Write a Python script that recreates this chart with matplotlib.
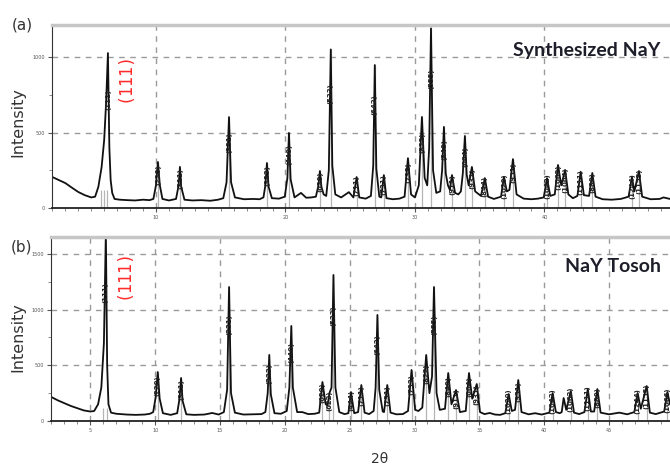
import matplotlib.pyplot as plt
from matplotlib.ticker import MultipleLocator, FixedLocator
import numpy as np

# ---- panel (a): Synthesized NaY, trace ----
two_theta_a = [2.0, 2.5, 3.0, 3.5, 4.0, 4.5, 5.0, 5.3, 5.55, 5.8, 6.0, 6.15, 6.29, 6.4, 6.5, 6.62, 6.8,
               7.2, 7.8, 8.4, 9.0, 9.5, 9.8, 10.0, 10.15, 10.3, 10.5, 11.0, 11.55, 11.75, 11.85, 11.95, 12.2,
               12.8, 13.5, 14.2, 14.8, 15.2, 15.45, 15.64, 15.8, 16.1, 16.8, 17.5, 18.0, 18.3, 18.45, 18.57,
               18.7, 18.95, 19.5, 19.95, 20.15, 20.27, 20.4, 20.7, 21.2, 21.6, 22.0, 22.35, 22.55, 22.66,
               22.78, 22.95, 23.15, 23.35, 23.5, 23.62, 23.85, 24.3, 24.9, 25.25, 25.5, 25.7, 26.2, 26.6,
               26.78, 26.9, 27.02, 27.25, 27.4, 27.6, 27.8, 28.3, 28.8, 29.2, 29.46, 29.7, 30.0, 30.3, 30.54,
               30.75, 30.95, 31.1, 31.24, 31.4, 31.65, 31.95, 32.1, 32.24, 32.38, 32.55, 32.7, 32.86, 33.1,
               33.35, 33.55, 33.7, 33.86, 34.0, 34.15, 34.4, 34.65, 35.1, 35.4, 35.65, 36.1, 36.65, 36.87,
               37.1, 37.3, 37.57, 37.85, 38.4, 39.0, 39.5, 39.95, 40.2, 40.45, 40.8, 41.05, 41.3, 41.6,
               41.85, 42.2, 42.55, 42.8, 43.05, 43.45, 43.7, 43.95, 44.5, 45.2, 45.9, 46.5, 46.76, 46.95,
               47.3, 47.55, 48.2, 48.9, 49.2, 49.7]
counts_a = [205, 185, 165, 135, 106, 85, 70, 75, 140, 270, 450, 700, 1026, 400, 185, 100, 60,
            55, 52, 50, 55, 52, 60, 150, 305, 150, 60, 50, 60, 150, 272, 140, 55,
            50, 52, 48, 55, 65, 170, 602, 170, 70, 58, 60, 58, 70, 150, 298,
            140, 65, 62, 75, 200, 497, 190, 70, 100, 68, 70, 75, 150, 245,
            140, 90, 80, 250, 1050, 280, 90, 70, 105, 70, 205, 70, 62, 80,
            280, 947, 260, 75, 70, 218, 65, 58, 62, 75, 330, 90, 70, 150, 603,
            200, 150, 400, 1190, 250, 100, 110, 250, 537, 230, 150, 120, 218, 100,
            90, 110, 230, 477, 220, 150, 272, 110, 80, 198, 75, 60, 75, 205,
            110, 120, 324, 90, 62, 58, 62, 70, 198, 80, 90, 285, 150, 252,
            90, 65, 80, 240, 85, 80, 232, 75, 58, 55, 60, 75, 205, 110,
            245, 75, 58, 60, 70, 60]
peaks_a = [10.15, 11.85, 15.64, 18.57, 20.27, 22.66, 23.5, 25.5, 26.9, 27.6, 29.46, 30.54, 31.24,
           32.24, 32.86, 33.86, 34.4, 35.4, 36.87, 37.57, 40.2, 41.05, 41.6, 42.8, 43.7, 46.76, 47.3]
hkl_a = ['(220)', '(311)', '(331)', '(333)', '(440)', '(620)', '(533)', '(711)', '(642)', '(731)',
         '(733)', '(822)', '(555)', '(840)', '(911)', '(664)', '(931)', '(844)', '(1020)', '(951)',
         '(1042)', '(1062)', '(1064)', '(1111)', '(880)', '(1244)', '(1155)']

# ---- panel (b): NaY Tosoh ----
two_theta_b = [2.0, 2.5, 3.0, 3.5, 4.0, 4.5, 5.0, 5.3, 5.6, 5.85, 6.05, 6.2, 6.3, 6.4, 6.6, 7.0,
               7.8, 8.5, 9.2, 9.6, 9.85, 10.05, 10.2, 10.35, 10.6, 11.2, 11.7, 11.88, 12.0, 12.12, 12.4,
               13.0, 13.8, 14.4, 14.9, 15.3, 15.55, 15.7, 15.85, 16.15, 16.8, 17.6, 18.2, 18.5, 18.68,
               18.8, 18.92, 19.2, 19.7, 20.15, 20.35, 20.5, 20.62, 20.95, 21.35, 21.8, 22.3, 22.65, 22.9,
               23.15, 23.3, 23.44, 23.6, 23.75, 23.9, 24.2, 24.6, 24.9, 25.1, 25.35, 25.65, 25.9, 26.15,
               26.5, 26.85, 27.0, 27.14, 27.28, 27.55, 27.65, 27.9, 28.15, 28.6, 29.1, 29.5, 29.77, 30.05,
               30.3, 30.6, 30.9, 31.15, 31.35, 31.5, 31.7, 31.95, 32.35, 32.6, 32.85, 33.2, 33.5, 33.95,
               34.2, 34.45, 34.8, 35.05, 35.4, 35.8, 36.2, 36.6, 37.0, 37.26, 37.5, 37.75, 38.0, 38.25,
               38.8, 39.3, 39.8, 40.4, 40.65, 40.9, 41.2, 41.35, 41.5, 41.7, 42.05, 42.3, 42.7, 43.1,
               43.36, 43.6, 43.85, 44.1, 44.35, 45.0, 45.8, 46.4, 46.95, 47.2, 47.45, 47.9, 48.15, 48.6,
               49.25, 49.5, 49.7]
counts_b = [215, 185, 160, 135, 115, 95, 85, 90, 150, 300, 700, 1700, 500, 150, 75, 65,
            58, 55, 58, 65, 80, 220, 440, 200, 70, 55, 70, 200, 386, 180, 60,
            55, 58, 72, 58, 80, 280, 1203, 250, 75, 58, 60, 62, 80, 250,
            593, 240, 70, 65, 90, 300, 853, 300, 80, 80, 62, 65, 75, 350,
            150, 140, 251, 300, 1311, 300, 80, 62, 70, 260, 70, 80, 323, 75,
            62, 90, 300, 952, 280, 85, 80, 323, 75, 60, 62, 90, 458, 100,
            90, 120, 593, 250, 400, 1203, 250, 100, 110, 431, 150, 278, 80, 90,
            431, 200, 332, 80, 62, 72, 58, 55, 70, 242, 90, 100, 368, 80,
            60, 70, 58, 75, 251, 80, 70, 80, 206, 100, 269, 75, 62, 80,
            287, 85, 85, 287, 75, 60, 75, 60, 80, 251, 110, 314, 75, 62,
            85, 260, 150]
peaks_b = [10.2, 12.0, 15.7, 18.8, 20.5, 22.9, 23.44, 23.75, 25.1, 25.9, 27.14, 27.9, 29.77, 30.9,
           31.5, 32.6, 33.2, 34.2, 34.8, 37.26, 38.0, 40.65, 42.05, 43.36, 44.1, 47.2, 47.9, 49.5]
hkl_b = ['(220)', '(311)', '(331)', '(333)', '(440)', '(620)', '(622)', '(533)', '(444)', '(711)',
         '(642)', '(731)', '(733)', '(822)', '(555)', '(840)', '(911)', '(664)', '(931)', '(1020)',
         '(951)', '(1042)', '(1062)', '(1111)', '(880)', '(1244)', '(1155)', '(1066)']
extra_sticks_a = [5.75, 5.95]
extra_sticks_b = [5.95]


def draw_panel(ax, tt, cnt, peaks, hkl, extra, ymax, xgrid, ygrid, xlab):
    ax.set_xlim(1.97, 49.7)
    ax.set_ylim(0, ymax)
    for v in xgrid:
        ax.axvline(v, color='#9a9a9a', ls=(0, (4, 4)), lw=1, zorder=0)
    for v in ygrid:
        ax.axhline(v, color='#9a9a9a', ls=(0, (4, 4)), lw=1, zorder=0)

    # reference sticks under the peaks
    heights = np.interp(peaks, tt, cnt)
    ax.vlines(peaks, 0, heights, color='#b5b5b5', lw=0.9, zorder=1)
    ax.vlines(list(extra) + [peaks[0] - 3.9], 0, 120, color='#b5b5b5', lw=0.9, zorder=1)

    ax.plot(tt, cnt, color='#111111', lw=1.3, zorder=2)

    for p, h, lab in zip(peaks, heights, hkl):
        ax.text(p, h * 0.72, lab, rotation=90, fontsize=5, fontweight='bold',
                color='#222222', ha='center', va='center', zorder=3, clip_on=True)

    ax.spines['right'].set_visible(False)
    ax.spines['top'].set_color('#c6c6c6')
    ax.spines['top'].set_linewidth(2.5)
    ax.spines['left'].set_color('#333333')
    ax.spines['bottom'].set_color('#222222')
    ax.spines['bottom'].set_linewidth(1.3)

    ax.xaxis.set_major_locator(FixedLocator(xlab))
    ax.xaxis.set_minor_locator(MultipleLocator(1))
    ax.yaxis.set_major_locator(MultipleLocator(500))
    ax.yaxis.set_minor_locator(MultipleLocator(250))
    ax.tick_params(axis='both', which='major', direction='out', length=3, width=0.8,
                   labelsize=3.5, labelcolor='#555555', color='#555555', pad=2)
    ax.tick_params(axis='both', which='minor', direction='out', length=2, width=0.6, color='#777777')
    ax.set_xticklabels([str(v) for v in xlab])


fig = plt.figure(figsize=(6.7, 4.65), dpi=100)
ax_a = fig.add_axes([52 / 670, 1 - 208 / 465, 618 / 670, 183 / 465])
ax_b = fig.add_axes([51 / 670, 1 - 421 / 465, 619 / 670, 184 / 465])

draw_panel(ax_a, two_theta_a, counts_a, peaks_a, hkl_a, extra_sticks_a, 1212,
           [10, 20, 30, 40], [500, 1000], [10, 20, 30, 40])
draw_panel(ax_b, two_theta_b, counts_b, peaks_b, hkl_b, extra_sticks_b, 1652,
           [5, 10, 15, 20, 25, 30, 35, 40, 45], [500, 1000, 1500],
           [5, 10, 15, 20, 25, 30, 35, 40, 45])

# red (111) marks
ax_a.text(7.55, 870, '(111)', rotation=90, color='#ff2a2a', fontsize=12,
          family='DejaVu Sans Mono', ha='center', va='center')
ax_b.text(7.55, 1320, '(111)', rotation=90, color='#ff2a2a', fontsize=12,
          family='DejaVu Sans Mono', ha='center', va='center')
ax_a.text(6.29, 1026 * 0.70, '(111)', rotation=90, fontsize=5, fontweight='bold',
          color='#222222', ha='center', va='center')
ax_b.text(6.2, 1150, '(111)', rotation=90, fontsize=5, fontweight='bold',
          color='#222222', ha='center', va='center')

sample_font = ['Lato', 'DejaVu Sans']
ax_a.text(0.985, 0.86, 'Synthesized NaY', transform=ax_a.transAxes, ha='right', va='center',
          fontsize=14, fontweight='bold', color='#1e1e2a', family=sample_font)
ax_b.text(0.985, 0.84, 'NaY Tosoh', transform=ax_b.transAxes, ha='right', va='center',
          fontsize=14, fontweight='bold', color='#1e1e2a', family=sample_font)

fig.text(22 / 670, 1 - 25 / 465, '(a)', fontsize=11, color='#333333', ha='center', va='center')
fig.text(22 / 670, 1 - 247 / 465, '(b)', fontsize=11, color='#333333', ha='center', va='center')
fig.text(18 / 670, 1 - 122 / 465, 'Intensity', rotation=90, fontsize=11.5, color='#333333',
         ha='center', va='center')
fig.text(18 / 670, 1 - 337 / 465, 'Intensity', rotation=90, fontsize=11.5, color='#333333',
         ha='center', va='center')
fig.text(380 / 670, 1 - 459 / 465, '2θ', fontsize=10, color='#333333', ha='center', va='center')

fig.savefig('out.png', dpi=100)
